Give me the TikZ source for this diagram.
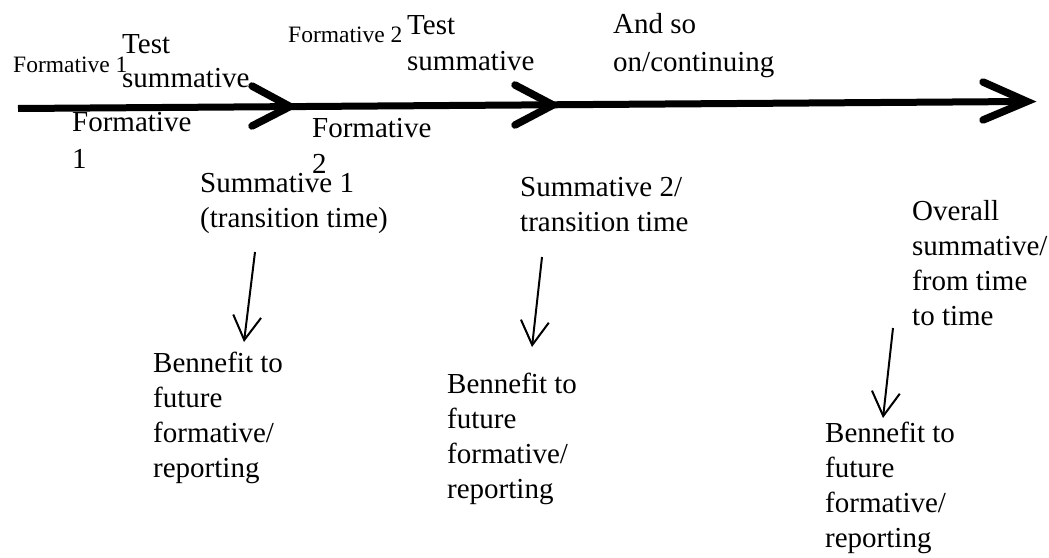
\documentclass[tikz,border=0pt]{standalone}
\usepackage{fontspec}
\setmainfont{Liberation Serif}
\usetikzlibrary{arrows.meta}
\begin{document}
\begin{tikzpicture}[x=1pt,y=-1pt,
  big/.style={font=\fontsize{29}{35}\selectfont, anchor=base west, inner sep=0pt},
  small/.style={font=\fontsize{23.5}{28}\selectfont, anchor=base west, inner sep=0pt},
  mainline/.style={line width=7pt},
  chev/.style={line width=7.5pt, line cap=round, line join=miter},
  pointer/.style={line width=2pt, -{Straight Barb[length=24pt,width=28pt]}}]
\useasboundingbox (0,0) rectangle (1049,557);

% main timeline
\coordinate (L0) at (18,108.5);
\coordinate (L1) at (1024,101.5);
\draw[mainline] (L0) -- (L1);
\coordinate (c1u) at (252,86);  \coordinate (c1t) at (290,106.5); \coordinate (c1d) at (252,126);
\coordinate (c2u) at (515,85);  \coordinate (c2t) at (553,105);   \coordinate (c2d) at (515,125);
\coordinate (c3u) at (983,82);  \coordinate (c3t) at (1027,101.5); \coordinate (c3d) at (983,120);
\draw[chev] (c1u) -- (c1t) -- (c1d);
\draw[chev] (c2u) -- (c2t) -- (c2d);
\draw[chev] (c3u) -- (c3t) -- (c3d);

% labels above / below the line
\node[small] (f1top) at (13,72) {Formative 1};
\node[big] (ts1a) at (122,53) {Test};
\node[big] (ts1b) at (122,87) {summative};
\node[big] (f1a) at (72,131) {Formative};
\node[big] (f1b) at (72,168) {1};
\node[small] (f2top) at (288,42) {Formative 2};
\node[big] (ts2a) at (407,34) {Test};
\node[big] (ts2b) at (407,70) {summative};
\node[big] (f2a) at (312,137) {Formative};
\node[big] (f2b) at (312,173) {2};
\node[big] (ac1) at (613,33) {And so};
\node[big] (ac2) at (613,71) {on/continuing};

% summative labels
\node[big] (s1a) at (200,192) {Summative 1};
\node[big] (s1b) at (200,227) {(transition time)};
\node[big] (s2a) at (520,196) {Summative 2/};
\node[big] (s2b) at (520,231) {transition time};
\node[big] (o1) at (912,220) {Overall};
\node[big] (o2) at (912,255) {summative/};
\node[big] (o3) at (912,290) {from time};
\node[big] (o4) at (912,325) {to time};

% benefit blocks
\node[big] (b1a) at (153,372) {Bennefit to};
\node[big] (b1b) at (153,407) {future};
\node[big] (b1c) at (153,442) {formative/};
\node[big] (b1d) at (153,477) {reporting};
\node[big] (b2a) at (447,393) {Bennefit to};
\node[big] (b2b) at (447,428) {future};
\node[big] (b2c) at (447,463) {formative/};
\node[big] (b2d) at (447,498) {reporting};
\node[big] (b3a) at (825,442) {Bennefit to};
\node[big] (b3b) at (825,477) {future};
\node[big] (b3c) at (825,512) {formative/};
\node[big] (b3d) at (825,547) {reporting};

% pointers
\coordinate (p1s) at (255,252); \coordinate (p1e) at (244,342);
\coordinate (p2s) at (542,257); \coordinate (p2e) at (532,347);
\coordinate (p3s) at (893,328); \coordinate (p3e) at (883,418);
\draw[pointer] (p1s) -- (p1e);
\draw[pointer] (p2s) -- (p2e);
\draw[pointer] (p3s) -- (p3e);
\end{tikzpicture}
\end{document}
